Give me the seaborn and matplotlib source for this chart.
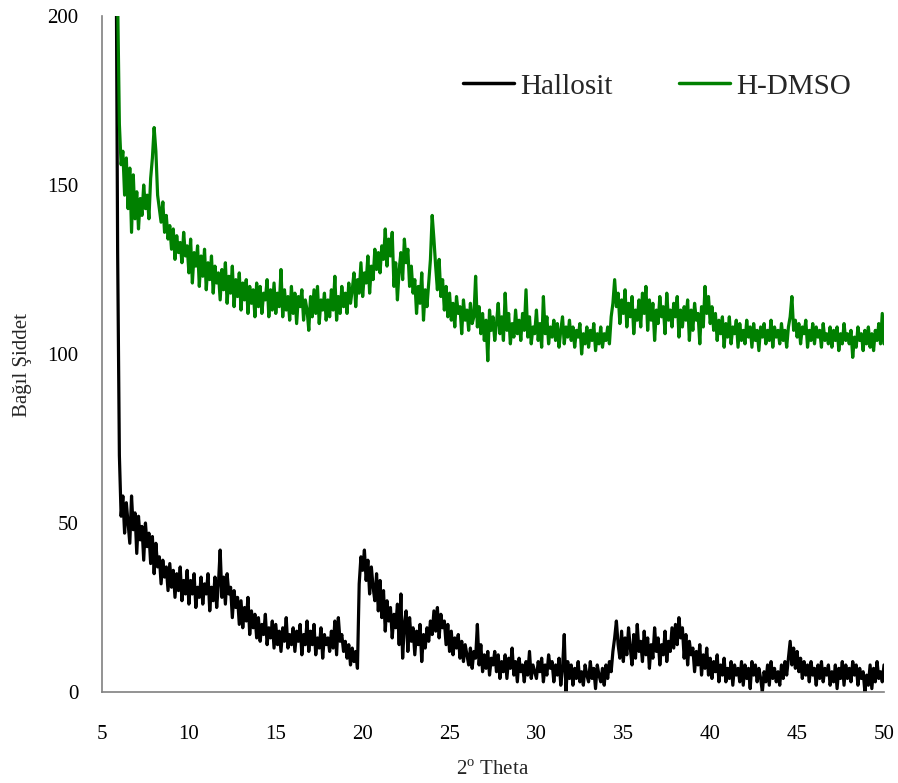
import numpy as np
import pandas as pd
import matplotlib
matplotlib.use("Agg")
import matplotlib.pyplot as plt
import seaborn as sns

# 2-theta grid (degrees), 0.1 deg steps from 5.8 to 50.0
two_theta = np.round(np.arange(5.8, 50.00001, 0.1), 1)

hallosit = [
    235, 130,
    70, 52, 58, 47, 56, 50, 44, 58, 48, 53,
    41, 52, 45, 49, 39, 50, 43, 47, 38, 46,
    35, 44, 37, 40, 32, 39, 34, 37, 30, 38,
    31, 36, 28, 35, 30, 37, 27, 33, 29, 36,
    26, 33, 29, 35, 25, 31, 28, 34, 26, 32,
    29, 35, 24, 31, 27, 34, 25, 32, 42, 28,
    34, 26, 35, 29, 31, 22, 30, 25, 28, 20,
    27, 19, 25, 21, 28, 17, 24, 19, 23, 16,
    22, 15, 20, 17, 23, 14, 19, 16, 21, 13,
    20, 14, 18, 12, 19, 15, 22, 13, 17, 14,
    19, 12, 18, 15, 20, 11, 17, 14, 21, 12,
    18, 14, 20, 11, 16, 13, 19, 10, 17, 14,
    16, 12, 18, 13, 21, 11, 22, 15, 17, 12,
    15, 10, 14, 8, 13, 9, 12, 7, 32, 40,
    36, 42, 33, 39, 29, 37, 31, 27, 35, 24,
    33, 22, 30, 18, 27, 21, 25, 16, 23, 19,
    26, 14, 29, 10, 20, 24, 12, 22, 15, 19,
    11, 18, 14, 20, 9, 17, 13, 19, 15, 21,
    17, 24, 18, 25, 16, 23, 19, 21, 14, 20,
    12, 18, 11, 16, 13, 17, 10, 15, 9, 14,
    11, 8, 13, 7, 12, 10, 20, 8, 14, 6,
    11, 7, 12, 5, 10, 8, 12, 6, 11, 4,
    9, 6, 11, 4, 10, 7, 13, 5, 9, 3,
    10, 6, 8, 3, 9, 5, 12, 4, 8, 6,
    4, 9, 6, 10, 3, 8, 5, 11, 7, 9,
    3, 8, 5, 10, 2, 7, 17, 0, 9, 4,
    8, 2, 7, 4, 9, 3, 6, 2, 8, 5,
    3, 9, 4, 7, 1, 8, 5, 3, 7, 2,
    8, 4, 9, 6, 12, 16, 21, 14, 10, 18,
    9, 16, 11, 19, 13, 8, 17, 10, 20, 12,
    15, 9, 18, 11, 16, 7, 14, 10, 19, 12,
    16, 8, 14, 11, 18, 9, 15, 12, 19, 13,
    20, 14, 22, 16, 19, 10, 17, 8, 15, 11,
    13, 6, 12, 8, 14, 5, 11, 7, 13, 5,
    10, 4, 9, 6, 11, 3, 8, 5, 10, 3,
    7, 4, 9, 2, 8, 5, 7, 3, 9, 2,
    8, 4, 7, 1, 9, 5, 8, 3, 7, 4,
    0, 6, 3, 8, 2, 9, 4, 7, 3, 6,
    2, 8, 4, 9, 5, 10, 15, 8, 13, 7,
    12, 6, 10, 4, 9, 5, 8, 3, 9, 5,
    7, 2, 8, 4, 9, 3, 7, 5, 8, 2,
    6, 3, 8, 1, 7, 4, 9, 2, 8, 4,
    7, 3, 9, 5, 8, 2, 7, 4, 6, 0,
    5, 2, 8, 1, 7, 3, 9, 4, 6, 3,
    8,
]

h_dmso = [
    250, 205,
    168, 156, 160, 147, 158, 143, 155, 136, 153, 140,
    148, 137, 146, 141, 150, 143, 147, 140, 152, 158,
    167, 160, 147, 143, 139, 145, 136, 141, 134, 138,
    131, 137, 128, 135, 130, 133, 127, 136, 129, 132,
    124, 134, 121, 130, 126, 132, 120, 129, 123, 131,
    119, 127, 122, 129, 118, 126, 121, 124, 116, 125,
    119, 127, 115, 123, 118, 126, 114, 122, 117, 124,
    113, 121, 116, 122, 112, 120, 115, 119, 111, 121,
    114, 120, 112, 118, 116, 122, 111, 119, 113, 121,
    112, 118, 114, 125, 111, 119, 113, 117, 110, 120,
    112, 118, 109, 117, 114, 119, 110, 116, 113, 107,
    117, 111, 119, 112, 120, 109, 116, 113, 118, 110,
    116, 111, 119, 113, 123, 110, 117, 112, 120, 114,
    118, 112, 121, 115, 119, 124, 114, 122, 118, 127,
    117, 124, 121, 129, 118, 126, 122, 131, 125, 130,
    124, 132, 128, 137, 126, 134, 129, 136, 120, 127,
    116, 125, 130, 122, 134, 127, 131, 120, 126, 118,
    122, 112, 120, 115, 124, 110, 119, 114, 121, 128,
    141, 134, 126, 119, 128, 117, 122, 113, 120, 111,
    118, 110, 115, 108, 117, 112, 114, 106, 116, 110,
    113, 107, 115, 109, 111, 123, 108, 114, 106, 112,
    104, 110, 98, 113, 107, 111, 104, 109, 115, 106,
    111, 104, 118, 107, 112, 103, 109, 105, 113, 106,
    110, 104, 112, 107, 119, 105, 111, 103, 108, 106,
    113, 104, 109, 102, 117, 106, 111, 103, 108, 105,
    110, 104, 109, 102, 107, 111, 103, 108, 105, 110,
    104, 108, 102, 107, 105, 109, 100, 106, 103, 108,
    102, 107, 104, 109, 101, 106, 103, 108, 102, 106,
    104, 108, 103, 111, 115, 122, 114, 118, 109, 116,
    112, 119, 108, 115, 111, 117, 106, 113, 110, 116,
    108, 118, 112, 120, 107, 116, 110, 115, 104, 113,
    109, 117, 111, 114, 106, 118, 110, 113, 108, 115,
    111, 117, 105, 113, 108, 114, 110, 116, 104, 113,
    107, 115, 110, 112, 103, 114, 108, 120, 112, 117,
    109, 114, 107, 112, 104, 110, 106, 111, 102, 109,
    105, 111, 103, 108, 106, 110, 102, 109, 104, 107,
    103, 110, 105, 108, 102, 109, 104, 107, 101, 108,
    105, 109, 103, 107, 104, 110, 102, 108, 105, 107,
    103, 109, 104, 107, 102, 108, 111, 117, 107, 110,
    105, 109, 103, 108, 106, 110, 102, 107, 104, 109,
    103, 108, 105, 107, 102, 109, 104, 106, 103, 108,
    102, 107, 104, 108, 101, 106, 103, 109, 104, 106,
    103, 107, 99, 105, 102, 108, 104, 106, 101, 107,
    103, 108, 102, 106, 101, 107, 104, 109, 103, 112,
    103,
]

series_names = ["Hallosit", "H-DMSO"]
x_ticks = [5, 10, 15, 20, 25, 30, 35, 40, 45, 50]
y_ticks = [0, 50, 100, 150, 200]

assert len(hallosit) == len(two_theta), (len(hallosit), len(two_theta))
assert len(h_dmso) == len(two_theta), (len(h_dmso), len(two_theta))

df = pd.concat([
    pd.DataFrame({"2theta": two_theta, "I": hallosit, "sample": series_names[0]}),
    pd.DataFrame({"2theta": two_theta, "I": h_dmso, "sample": series_names[1]}),
])

sns.set_style("white")
plt.rcParams["font.family"] = ["Liberation Serif", "DejaVu Serif"]
plt.rcParams["mathtext.fontset"] = "custom"
plt.rcParams["mathtext.rm"] = "Liberation Serif"

fig = plt.figure(figsize=(8.98, 7.83), dpi=100)
ax = fig.add_axes([102 / 898, 1 - 692 / 783, 782 / 898, 676 / 783])

sns.lineplot(data=df, x="2theta", y="I", hue="sample",
             palette={"Hallosit": "#000000", "H-DMSO": "#008000"},
             hue_order=series_names, linewidth=2.3, ax=ax, sort=False,
             estimator=None)

ax.set_xlim(5, 50)
ax.set_ylim(0, 200)
ax.set_xticks(x_ticks)
ax.set_yticks(y_ticks)
ax.tick_params(axis="both", labelsize=15, colors="#000000", length=5,
               width=1, direction="out")
ax.tick_params(axis="x", pad=19, color="#808080")
ax.tick_params(axis="y", pad=12, color="#808080")
for s in ["top", "right"]:
    ax.spines[s].set_visible(False)
for s in ["left", "bottom"]:
    ax.spines[s].set_color("#808080")
    ax.spines[s].set_linewidth(1.2)

ax.set_xlabel(r"2$^{\mathrm{o}}$ Theta", fontsize=15)
ax.set_ylabel("Bağıl Şiddet", fontsize=15)
ax.xaxis.set_label_coords(0.5, -0.101)
ax.yaxis.set_label_coords(-0.09, 0.484)

leg = ax.legend(loc="center left", bbox_to_anchor=(0.4616, 0.896), ncol=2,
                frameon=False, fontsize=21, handlelength=1.75,
                handletextpad=0.2, columnspacing=2.3, borderpad=0,
                borderaxespad=0)
for line in leg.get_lines():
    line.set_linewidth(2.5)

fig.savefig("out.png", dpi=100)
